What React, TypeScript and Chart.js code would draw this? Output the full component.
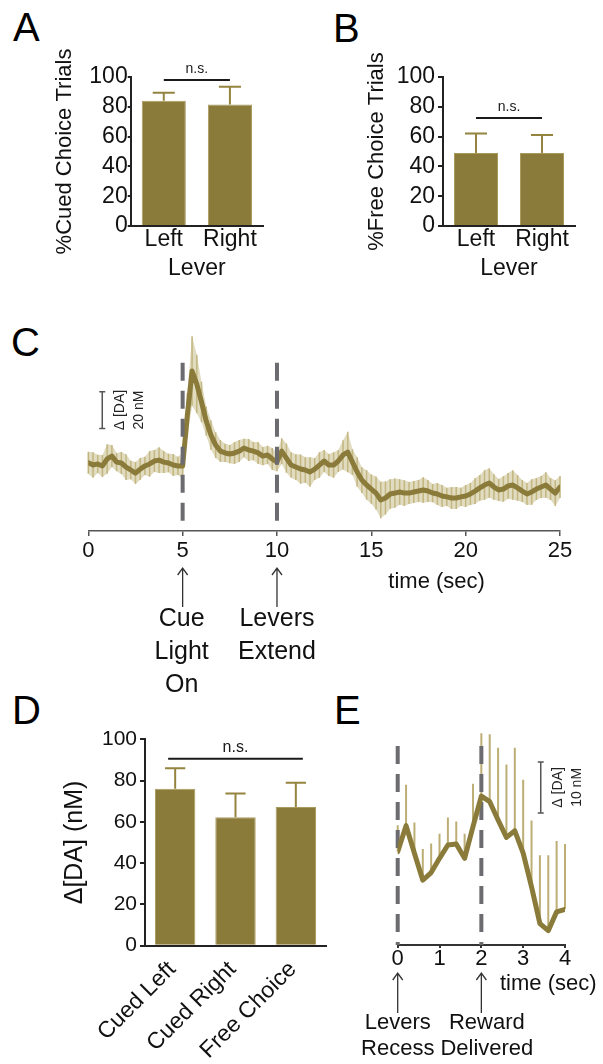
import React, { useEffect, useRef } from 'react';
import { Chart, registerables } from 'chart.js';
Chart.register(...registerables);

const FONT = "'Liberation Sans', Arial, Helvetica, sans-serif";
const OLIVE = '#8b7b3a';
const ERR_OLIVE = '#94843f';
const TEXT = '#111111';
const AXIS = '#222222';
const DASH = '#6b6b70';

// ---------- Panel A ----------
const leverLabels = ['Left', 'Right'];
const cuedChoicePct = [84, 81.5];
const cuedChoiceSem = [5.5, 12];
const cuedChoiceSig = 98;
// ---------- Panel B ----------
const freeChoicePct = [49, 49];
const freeChoiceSem = [13, 12];
const freeChoiceSig = 72.5;
const pctTicks = [0, 20, 40, 60, 80, 100];

// ---------- Panel C ----------
const cTime = [
  0, 0.25, 0.5, 0.75, 1, 1.25, 1.5, 1.75, 2, 2.25, 2.5, 2.75, 3, 3.25, 3.5, 3.75, 4, 4.25, 4.5, 4.75, 5,
  5.25, 5.5, 5.75, 6, 6.25, 6.5, 6.75, 7, 7.25, 7.5, 7.75, 8, 8.25, 8.5, 8.75, 9, 9.25, 9.5, 9.75, 10,
  10.25, 10.5, 10.75, 11, 11.25, 11.5, 11.75, 12, 12.25, 12.5, 12.75, 13, 13.25, 13.5, 13.75, 14, 14.25, 14.5, 14.75, 15,
  15.25, 15.5, 15.75, 16, 16.25, 16.5, 16.75, 17, 17.25, 17.5, 17.75, 18, 18.25, 18.5, 18.75, 19, 19.25, 19.5, 19.75, 20,
  20.25, 20.5, 20.75, 21, 21.25, 21.5, 21.75, 22, 22.25, 22.5, 22.75, 23, 23.25, 23.5, 23.75, 24, 24.25, 24.5, 24.75, 25,
];
const cMean = [
  0.2, -1.1, -0.5, -1.6, 2.2, 3.8, 0.5, 0, -2.2, -3.8, -5.5, -3.3, -1.6, -0.5, 1.1, 1.6, 0.5, 0, -1.1, -1.6, -1.6,
  26.2, 50.2, 43.1, 33.3, 22.9, 15.3, 9.8, 6.5, 5.5, 4.9, 5.5, 6.5, 8.2, 7.1, 6.5, 5.5, 3.8, 4.4, 2.2, 0.5,
  6.5, 2.7, -1.1, -2.2, -3.3, -3.8, -4.9, -3.3, -1.1, 1.1, -1.1, -1.1, 1.1, 4.4, 6.0, 0.5, -4.9, -9.3, -12.0, -14.2,
  -16.4, -20.2, -19.1, -16.9, -16.4, -15.8, -16.4, -16.4, -15.8, -15.3, -14.7, -15.3, -16.4, -16.9, -18.0, -18.5, -19.1, -19.1, -18.5, -18.0,
  -16.9, -15.3, -13.6, -12.0, -10.9, -13.1, -14.7, -14.2, -12.5, -12.0, -13.6, -15.3, -16.9, -15.8, -14.2, -13.1, -12.0, -14.2, -16.4, -13.1,
];
const cSem = [
  6, 7, 5, 6, 8, 6, 5, 6, 7, 5, 6, 6, 5, 7, 6, 7, 6, 5, 6, 5, 7,
  12, 19, 16, 11, 8, 8, 7, 6, 5, 5, 6, 6, 5, 6, 5, 6, 5, 5, 6, 5,
  7, 8, 7, 7, 8, 7, 8, 6, 7, 6, 6, 7, 6, 8, 11, 7, 8, 7, 8, 8,
  9, 10, 9, 8, 8, 7, 7, 6, 6, 6, 7, 6, 5, 6, 6, 5, 6, 6, 5, 6,
  6, 7, 7, 8, 8, 7, 6, 7, 7, 8, 7, 6, 6, 7, 6, 6, 7, 6, 7, 6,
];
const cTicks = [0, 5, 10, 15, 20, 25];

// ---------- Panel D ----------
const dLabels = ['Cued Left', 'Cued Right', 'Free Choice'];
const dMean = [76, 62.2, 67.2];
const dSem = [10, 11.6, 11.8];
const dSig = 90.6;

// ---------- Panel E ----------
const eTime = [0, 0.2, 0.4, 0.6, 0.8, 1, 1.2, 1.4, 1.6, 1.8, 2, 2.2, 2.4, 2.6, 2.8, 3, 3.2, 3.4, 3.6, 3.8, 4];
const eMean = [18.3, 23.4, 18.0, 12.7, 14.2, 17.0, 19.6, 19.8, 17.0, 23.2, 29.2, 28.1, 24.5, 21.1, 22.4, 18.0, 11.4, 4.2, 2.8, 6.5, 7.0];
const eSem = [5.2, 8.0, 6.0, 6.1, 5.7, 4.8, 5.4, 4.4, 4.8, 8.4, 12.3, 13.2, 14.2, 14.3, 16.3, 14.4, 13.0, 13.4, 14.8, 13.9, 12.8];
const eTicks = [0, 1, 2, 3, 4];

// ---------- plugins ----------
function makeBarErrPlugin(o: any) {
  return {
    id: 'barErr',
    afterDatasetsDraw(chart: any) {
      const ctx = chart.ctx;
      const y = chart.scales.y;
      const meta = chart.getDatasetMeta(0);
      ctx.save();
      ctx.strokeStyle = ERR_OLIVE;
      ctx.lineWidth = 2;
      meta.data.forEach((bar: any, i: number) => {
        const top = y.getPixelForValue(o.means[i] + o.sems[i]);
        const w = bar.width;
        ctx.beginPath();
        ctx.moveTo(bar.x, bar.y);
        ctx.lineTo(bar.x, top);
        ctx.moveTo(bar.x - w / 4, top);
        ctx.lineTo(bar.x + w / 4, top);
        ctx.stroke();
      });
      const a = meta.data[o.sigFrom];
      const b = meta.data[o.sigTo];
      const ly = y.getPixelForValue(o.sigValue);
      ctx.strokeStyle = '#1a1a1a';
      ctx.lineWidth = 2;
      ctx.beginPath();
      ctx.moveTo(a.x - o.sigExt, ly);
      ctx.lineTo(b.x + o.sigExt, ly);
      ctx.stroke();
      ctx.fillStyle = '#1a1a1a';
      ctx.font = `${o.sigSize}px ${FONT}`;
      ctx.textAlign = 'center';
      ctx.textBaseline = 'alphabetic';
      ctx.fillText('n.s.', (a.x + b.x) / 2, ly - o.sigGap);
      ctx.restore();
    },
  };
}

function makeTracePlugin(o: any) {
  const drawDashes = (chart: any) => {
    const { ctx, scales: { x, y } } = chart;
    ctx.save();
    ctx.strokeStyle = DASH;
    ctx.lineWidth = 4;
    ctx.setLineDash([18, 10]);
    o.events.forEach((ev: any) => {
      const px = x.getPixelForValue(ev.t);
      ctx.beginPath();
      ctx.moveTo(px, y.getPixelForValue(o.dashTop));
      ctx.lineTo(px, y.getPixelForValue(y.min));
      ctx.stroke();
    });
    ctx.restore();
  };
  return {
    id: 'traceDecor',
    beforeDatasetsDraw(chart: any) {
      const { ctx, scales: { x, y } } = chart;
      ctx.save();
      ctx.strokeStyle = o.errColor;
      ctx.lineWidth = o.errWidth;
      ctx.beginPath();
      o.times.forEach((t: number, i: number) => {
        const px = x.getPixelForValue(t);
        const lo = o.oneSided ? o.means[i] : o.means[i] - o.sems[i];
        const hi = o.means[i] + o.sems[i];
        ctx.moveTo(px, y.getPixelForValue(lo));
        ctx.lineTo(px, y.getPixelForValue(hi));
      });
      ctx.stroke();
      ctx.restore();
      if (!o.dashOnTop) drawDashes(chart);
    },
    afterDatasetsDraw(chart: any) {
      if (o.dashOnTop) drawDashes(chart);
      const { ctx, scales: { x, y } } = chart;
      const sb = o.scaleBar;
      const px = x.getPixelForValue(sb.t);
      const y1 = y.getPixelForValue(sb.from);
      const y2 = y.getPixelForValue(sb.to);
      ctx.save();
      ctx.strokeStyle = '#555';
      ctx.lineWidth = 1.5;
      ctx.beginPath();
      ctx.moveTo(px, y1); ctx.lineTo(px, y2);
      ctx.moveTo(px - 3, y1); ctx.lineTo(px + 3, y1);
      ctx.moveTo(px - 3, y2); ctx.lineTo(px + 3, y2);
      ctx.stroke();
      ctx.fillStyle = '#222';
      ctx.font = `${sb.font}px ${FONT}`;
      ctx.textAlign = 'center';
      ctx.textBaseline = 'middle';
      sb.labels.forEach((lab: string, k: number) => {
        ctx.save();
        ctx.translate(px + sb.dx[k], (y1 + y2) / 2);
        ctx.rotate(-Math.PI / 2);
        ctx.fillText(lab, 0, 0);
        ctx.restore();
      });
      ctx.restore();
    },
    afterDraw(chart: any) {
      const { ctx, chartArea, scales: { x } } = chart;
      const bottom = chartArea.bottom;
      ctx.save();
      ctx.strokeStyle = '#333';
      ctx.lineWidth = 1.3;
      ctx.fillStyle = TEXT;
      ctx.textAlign = 'center';
      ctx.textBaseline = 'middle';
      o.events.forEach((ev: any) => {
        const ax = x.getPixelForValue(ev.t);
        const tip = bottom + o.arrow.tip;
        ctx.beginPath();
        ctx.moveTo(ax, bottom + o.arrow.end);
        ctx.lineTo(ax, tip);
        ctx.moveTo(ax - 5, tip + 7);
        ctx.lineTo(ax, tip);
        ctx.lineTo(ax + 5, tip + 7);
        ctx.stroke();
        ctx.font = `${o.arrow.font}px ${FONT}`;
        ev.lines.forEach((ln: string, k: number) => {
          ctx.fillText(ln, ax + ev.dx, bottom + o.arrow.text + k * o.arrow.gap);
        });
      });
      ctx.font = `${o.timeLabel.font}px ${FONT}`;
      ctx.fillText('time (sec)', x.getPixelForValue(o.timeLabel.t), bottom + o.timeLabel.dy);
      ctx.restore();
    },
  };
}

// ---------- configs ----------
function makeBar(p: any) {
  return {
    type: 'bar',
    data: {
      labels: p.labels,
      datasets: [{
        data: p.means,
        backgroundColor: OLIVE,
        borderColor: '#a99b5e',
        borderWidth: 1,
        barPercentage: p.barPct,
        categoryPercentage: 1,
      }],
    },
    options: {
      animation: false,
      responsive: false,
      maintainAspectRatio: false,
      layout: { padding: p.pad },
      plugins: { legend: { display: false }, tooltip: { enabled: false } },
      scales: {
        x: {
          offset: true,
          grid: { display: false, drawTicks: false },
          border: { display: true, color: AXIS, width: 2 },
          ticks: {
            color: TEXT,
            font: { family: FONT, size: p.xTickSize, lineHeight: 1 },
            padding: p.xTickPad,
            minRotation: p.rot,
            maxRotation: p.rot,
            autoSkip: false,
            labelOffset: p.labelOffset || 0,
          },
          title: p.xTitle
            ? { display: true, text: p.xTitle, color: TEXT, font: { family: FONT, size: p.xTitleSize, lineHeight: 1 }, padding: { top: 0, bottom: p.xTitlePad } }
            : { display: false },
          afterFit: (s: any) => { s.height = p.xHeight; s.paddingLeft = 0; s.paddingRight = 0; },
        },
        y: {
          min: 0,
          max: 100,
          afterBuildTicks: (s: any) => { s.ticks = p.ticks.map((v: number) => ({ value: v })); },
          grid: { display: true, drawOnChartArea: false, drawTicks: true, tickLength: p.yTickLen, color: AXIS, lineWidth: 2 },
          border: { display: true, color: AXIS, width: 2 },
          ticks: { color: TEXT, font: { family: FONT, size: p.yTickSize, lineHeight: 1 }, padding: p.yTickPad },
          title: { display: true, text: p.yTitle, color: TEXT, font: { family: FONT, size: p.yTitleSize, lineHeight: 1 }, padding: 0 },
          afterFit: (s: any) => { s.width = p.yWidth; s.paddingTop = 0; s.paddingBottom = 0; },
        },
      },
    },
    plugins: [makeBarErrPlugin({ means: p.means, sems: p.sems, sigFrom: 0, sigTo: p.labels.length - 1, sigValue: p.sig, sigExt: p.sigExt, sigGap: p.sigGap, sigSize: p.sigSize })],
  };
}

function makeTrace(p: any) {
  const datasets: any[] = [{
    data: p.times.map((t: number, i: number) => ({ x: t, y: p.means[i] })),
    borderColor: OLIVE,
    borderWidth: p.lineWidth,
    pointRadius: 0,
    tension: 0,
    fill: false,
    borderJoinStyle: 'round',
    borderCapStyle: 'round',
    order: 0,
  }];
  if (p.band) {
    datasets.push({
      data: p.times.map((t: number, i: number) => ({ x: t, y: p.means[i] + p.decor.sems[i] })),
      borderWidth: 0,
      borderColor: 'rgba(0,0,0,0)',
      backgroundColor: p.band,
      pointRadius: 0,
      tension: 0,
      fill: '+1',
      order: 2,
    });
    datasets.push({
      data: p.times.map((t: number, i: number) => ({ x: t, y: p.means[i] - p.decor.sems[i] })),
      borderWidth: 0,
      borderColor: 'rgba(0,0,0,0)',
      pointRadius: 0,
      tension: 0,
      fill: false,
      order: 3,
    });
  }
  return {
    type: 'line',
    data: { datasets },
    options: {
      animation: false,
      responsive: false,
      maintainAspectRatio: false,
      layout: { padding: p.pad },
      plugins: { legend: { display: false }, tooltip: { enabled: false } },
      scales: {
        x: {
          type: 'linear',
          min: p.ticks[0],
          max: p.ticks[p.ticks.length - 1],
          afterBuildTicks: (s: any) => { s.ticks = p.ticks.map((v: number) => ({ value: v })); },
          grid: { display: true, drawOnChartArea: false, drawTicks: true, tickLength: p.tickLen, color: p.axisColor, lineWidth: p.axisWidth },
          border: { display: true, color: p.axisColor, width: p.axisWidth },
          ticks: { color: TEXT, font: { family: FONT, size: p.tickSize, lineHeight: 1 }, padding: p.tickPad },
          afterFit: (s: any) => { s.height = 40; s.paddingLeft = 0; s.paddingRight = 0; },
        },
        y: { display: false, min: p.yMin, max: p.yMax },
      },
    },
    plugins: [makeTracePlugin(p.decor)],
  };
}

const configA = () => makeBar({
  labels: leverLabels, means: cuedChoicePct, sems: cuedChoiceSem, sig: cuedChoiceSig, ticks: pctTicks,
  yTitle: '%Cued Choice Trials', xTitle: 'Lever',
  pad: { left: 54, right: 37, top: 77, bottom: 0 }, yWidth: 76.7, xHeight: 64,
  xTickSize: 23, xTickPad: 2.5, xTitleSize: 23, xTitlePad: 9.5, rot: 0,
  yTickSize: 23, yTickLen: 3, yTickPad: 0, yTitleSize: 22,
  barPct: 0.667, sigExt: 0, sigGap: 7, sigSize: 14,
});
const configB = () => makeBar({
  labels: leverLabels, means: freeChoicePct, sems: freeChoiceSem, sig: freeChoiceSig, ticks: pctTicks,
  yTitle: '%Free Choice Trials', xTitle: 'Lever',
  pad: { left: 66, right: 28, top: 77, bottom: 0 }, yWidth: 77, xHeight: 64,
  xTickSize: 23, xTickPad: 2.5, xTitleSize: 23, xTitlePad: 9.5, rot: 0,
  yTickSize: 23, yTickLen: 5, yTickPad: 3, yTitleSize: 22,
  barPct: 0.667, sigExt: 0, sigGap: 7, sigSize: 14,
});
const configD = () => makeBar({
  labels: dLabels, means: dMean, sems: dSem, sig: dSig, ticks: pctTicks,
  yTitle: 'Δ[DA] (nM)', xTitle: null,
  pad: { left: 62.5, right: 4, top: 59.3, bottom: 0 }, yWidth: 82.5, xHeight: 118.3,
  xTickSize: 23, xTickPad: 12, rot: 45, labelOffset: -3,
  yTickSize: 21, yTickLen: 5, yTickPad: 3, yTitleSize: 25,
  barPct: 0.67, sigExt: 7, sigGap: 7, sigSize: 16,
});
const configC = () => makeTrace({
  times: cTime, means: cMean, ticks: cTicks, lineWidth: 5, band: 'rgba(196,184,130,0.5)',
  pad: { left: 28.3, right: 43, top: 10, bottom: 129 }, yMin: -37.1, yMax: 72.6,
  tickLen: 5, tickPad: 4, tickSize: 22, axisColor: '#555', axisWidth: 1.5,
  decor: {
    times: cTime, means: cMean, sems: cSem, oneSided: false, errColor: '#c2b57f', errWidth: 1.5,
    dashTop: 54.7, dashOnTop: true,
    events: [
      { t: 5, lines: ['Cue', 'Light', 'On'], dx: -1 },
      { t: 10, lines: ['Levers', 'Extend'], dx: 0 },
    ],
    scaleBar: { t: 0.74, from: 18.9, to: 38.9, dx: [17.7, 36.7], labels: ['Δ [DA]', '20 nM'], font: 14 },
    arrow: { tip: 37, end: 76, text: 88, gap: 33, font: 25 },
    timeLabel: { t: 18.46, dy: 50.7, font: 22 },
  },
});
const configE = () => makeTrace({
  times: eTime, means: eMean, ticks: eTicks, lineWidth: 5, band: null,
  pad: { left: 67.7, right: 38, top: 35.5, bottom: 79 }, yMin: 0, yMax: 45,
  tickLen: 3, tickPad: 0, tickSize: 22, axisColor: '#333', axisWidth: 2,
  decor: {
    times: eTime, means: eMean, sems: eSem, oneSided: true, errColor: '#bcae74', errWidth: 2,
    dashTop: 39, dashOnTop: false,
    events: [
      { t: 0, lines: ['Levers', 'Recess'], dx: 0 },
      { t: 2, lines: ['Reward', 'Delivered'], dx: 5.5 },
    ],
    scaleBar: { t: 3.42, from: 25.9, to: 35.9, dx: [17.3, 36.3], labels: ['Δ [DA]', '10 nM'], font: 14 },
    arrow: { tip: 28, end: 68, text: 78, gap: 26, font: 22 },
    timeLabel: { t: 3.6, dy: 39, font: 22 },
  },
});

function ChartBox({ left, top, width, height, make }: any) {
  const ref = useRef<HTMLCanvasElement | null>(null);
  useEffect(() => {
    const chart = new Chart(ref.current as HTMLCanvasElement, make());
    return () => chart.destroy();
  }, []);
  return (
    <canvas
      ref={ref}
      width={width}
      height={height}
      style={{ position: 'absolute', left, top, width, height }}
    />
  );
}

const letterStyle = (left: number, top: number): React.CSSProperties => ({
  position: 'absolute', left, top, fontSize: 40, lineHeight: '40px', fontFamily: FONT, color: '#000',
});

export default function App() {
  return (
    <div style={{ position: 'fixed', left: 0, top: 0, width: 603, height: 1064, background: '#fff', overflow: 'hidden' }}>
      <div style={letterStyle(13, 6.5)}>A</div>
      <div style={letterStyle(333, 7.5)}>B</div>
      <div style={letterStyle(11, 322)}>C</div>
      <div style={letterStyle(12, 690)}>D</div>
      <div style={letterStyle(334, 690)}>E</div>
      <ChartBox left={0} top={0} width={300} height={290} make={configA} />
      <ChartBox left={300} top={0} width={303} height={290} make={configB} />
      <ChartBox left={60} top={320} width={543} height={380} make={configC} />
      <ChartBox left={0} top={680} width={330} height={384} make={configD} />
      <ChartBox left={330} top={680} width={273} height={384} make={configE} />
    </div>
  );
}
